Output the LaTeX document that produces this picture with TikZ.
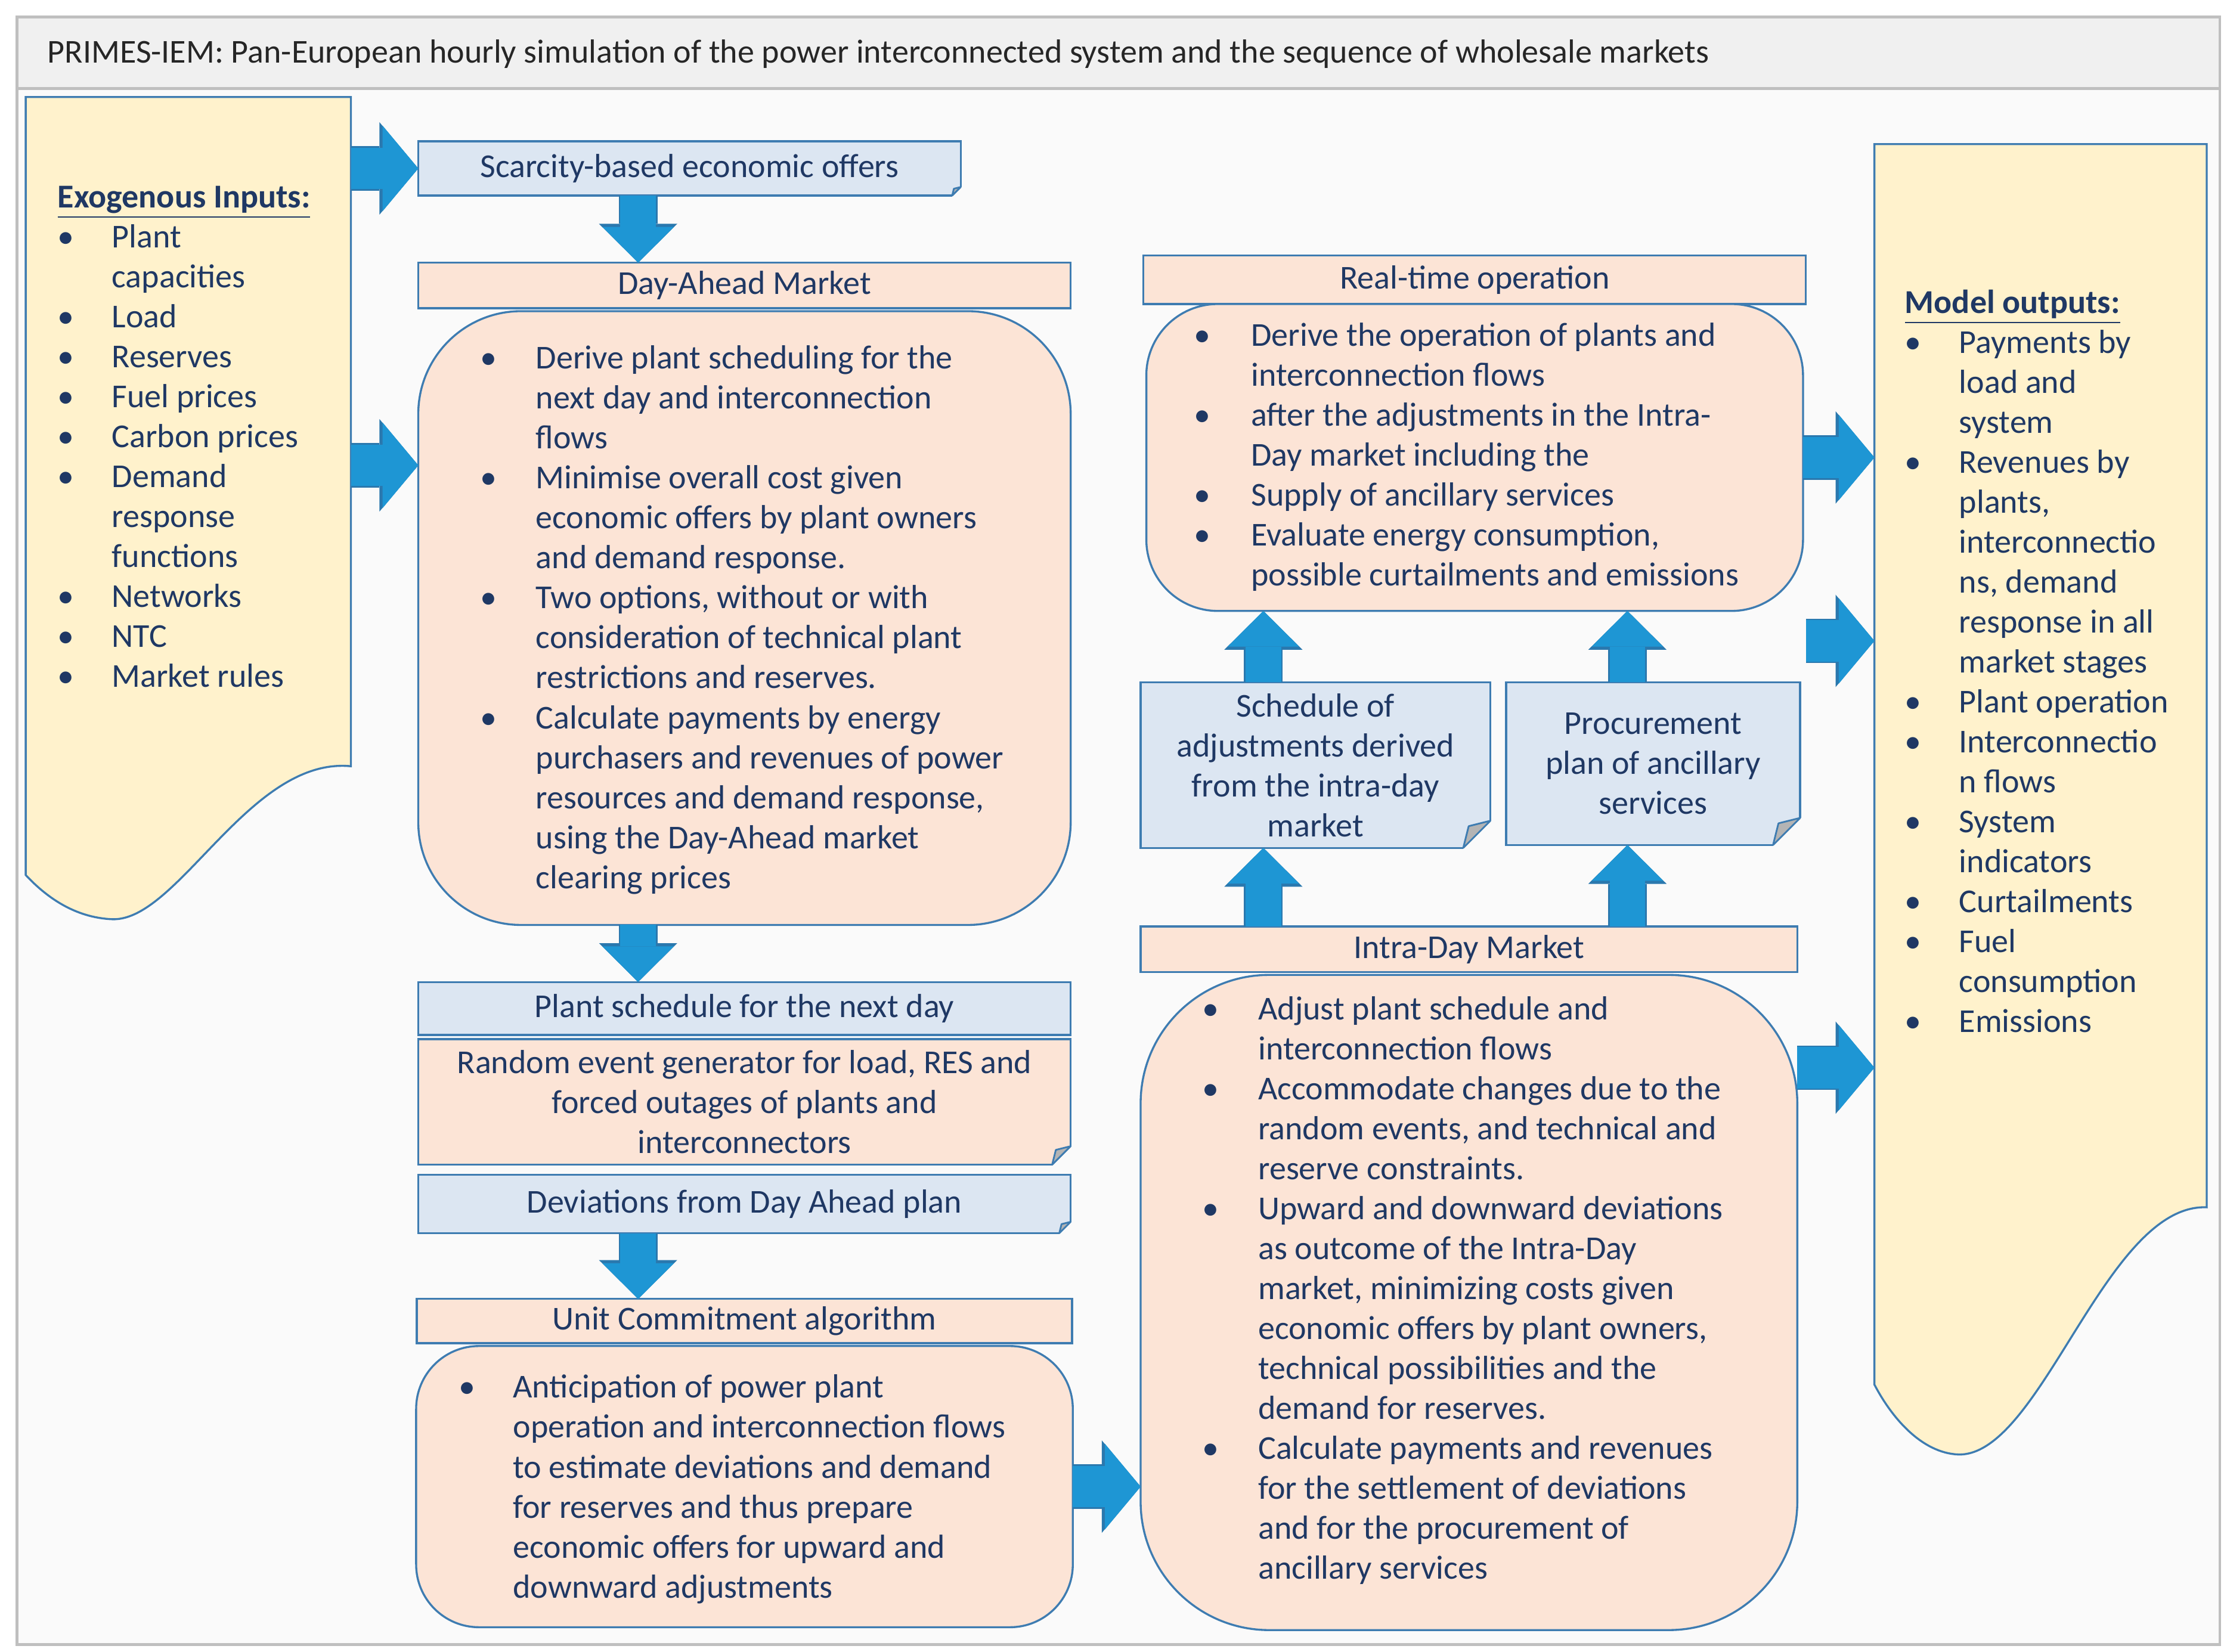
\documentclass[tikz,border=0pt]{standalone}
\usepackage{fontspec}
\setmainfont{Carlito}
\usetikzlibrary{arrows.meta,positioning,calc}

\definecolor{edge}{HTML}{3E7CB1}
\definecolor{peach}{HTML}{FCE4D6}
\definecolor{paleblue}{HTML}{DCE6F2}
\definecolor{sand}{HTML}{FFF2CC}
\definecolor{flow}{HTML}{1E96D4}
\definecolor{flowedge}{HTML}{2A78AE}
\definecolor{navy}{HTML}{1F3864}
\definecolor{framegray}{HTML}{BFBFBF}
\definecolor{bandgray}{HTML}{F0F0F0}
\definecolor{bodybg}{HTML}{FAFAFA}
\definecolor{foldgray}{HTML}{B4B4B4}

\newcommand{\boxfont}{\fontsize{11.7}{14}\selectfont}

\newcommand{\foldcorner}[2]{%
  \fill[bodybg] ([xshift=-#2,yshift=-1pt]#1.south east) -- ([xshift=1pt,yshift=-1pt]#1.south east)
    -- ([xshift=1pt,yshift=#2]#1.south east) -- ([yshift=#2]#1.south east) -- ([xshift=-#2]#1.south east) -- cycle;
  \filldraw[fill=foldgray,draw=edge,line width=0.6pt,line join=round] ([xshift=-#2]#1.south east)
    -- ([yshift=#2]#1.south east) -- ([xshift=-0.8*#2,yshift=0.8*#2]#1.south east) -- cycle;
}

\begin{document}
\begin{tikzpicture}[x=0.5pt,y=-0.5pt,
    box/.style={draw=edge,line width=0.7pt,inner sep=0pt,outer sep=0pt,text=navy,font=\boxfont,align=center},
    hdr/.style={box,fill=peach},
    memo/.style={box,fill=paleblue},
    bubble/.style={box,fill=peach},
    list/.style={inner sep=0pt,anchor=north west,text=navy,font=\boxfont},
    down/.style={draw=flow,line width=12.5pt,-{Triangle[length=12.5pt,width=25pt,line width=0pt]},
        preaction={draw=flowedge,line width=13.6pt,-{Triangle[length=13.6pt,width=27.4pt,line width=0pt]}}},
    side/.style={draw=flow,line width=14.5pt,-{Triangle[length=12.5pt,width=30pt,line width=0pt]},
        preaction={draw=flowedge,line width=15.6pt,-{Triangle[length=13.6pt,width=32.4pt,line width=0pt]}}}]

    \useasboundingbox (0,0) rectangle (1560,1157);

    \filldraw[fill=bodybg,draw=framegray,line width=1pt] (12,12) rectangle (1555,1152);
    \filldraw[fill=bandgray,draw=framegray,line width=1pt] (12,12) rectangle (1555,62);

    \node[anchor=base west,inner sep=0pt,font=\boxfont,text=black!85] (title) at (33,44)
        {PRIMES-IEM: Pan-European hourly simulation of the power interconnected system and the sequence of wholesale markets};

    \node[anchor=north west,minimum width=113.5pt,minimum height=234pt,inner sep=0pt] (exo) at (18,68) {};
    \filldraw[fill=sand,draw=edge,line width=0.7pt] (18,613) -- (exo.north west) -- (exo.north east) -- (exo.south east)
        .. controls (175,530) and (125,645) .. (79,644) .. controls (52,643) and (32,628) .. (18,613) -- cycle;

    \node[list] (exolist) at (40,125.4) {\begin{tabular}{@{}p{19pt}@{}l@{}}
        \multicolumn{2}{@{}l@{}}{\textbf{\underline{Exogenous Inputs:}}}\\
        \textbullet & Plant\\
        & capacities\\
        \textbullet & Load\\
        \textbullet & Reserves\\
        \textbullet & Fuel prices\\
        \textbullet & Carbon prices\\
        \textbullet & Demand\\
        & response\\
        & functions\\
        \textbullet & Networks\\
        \textbullet & NTC\\
        \textbullet & Market rules
    \end{tabular}};

    \node[memo,anchor=north west,minimum width=190pt,minimum height=19pt] (scar) at (293,99) {Scarcity-based economic offers};
    \foldcorner{scar}{3pt}

    \node[hdr,anchor=north west,minimum width=228.5pt,minimum height=16pt] (dahdr) at (293,184) {Day-Ahead Market};
    \node[bubble,below=1pt of dahdr,minimum width=228.5pt,minimum height=215pt,rounded corners=36pt] (dabox) {};
    \node[list] (dalist) at (336,238.4) {\begin{tabular}{@{}p{19.5pt}@{}l@{}}
        \textbullet & Derive plant scheduling for the\\
        & next day and interconnection\\
        & flows\\
        \textbullet & Minimise overall cost given\\
        & economic offers by plant owners\\
        & and demand response.\\
        \textbullet & Two options, without or with\\
        & consideration of technical plant\\
        & restrictions and reserves.\\
        \textbullet & Calculate payments by energy\\
        & purchasers and revenues of power\\
        & resources and demand response,\\
        & using the Day-Ahead market\\
        & clearing prices
    \end{tabular}};

    \node[memo,below=20pt of dabox,minimum width=228.5pt,minimum height=18.5pt] (psched) {Plant schedule for the next day};
    \node[hdr,below=1.5pt of psched,minimum width=228.5pt,minimum height=44pt] (rnd)
        {Random event generator for load, RES and\\forced outages of plants and\\interconnectors};
    \foldcorner{rnd}{6.5pt}
    \node[memo,below=3.5pt of rnd,minimum width=228.5pt,minimum height=20.5pt] (devi) {Deviations from Day Ahead plan};
    \foldcorner{devi}{4pt}

    \node[hdr,below=23pt of devi,minimum width=229.5pt,minimum height=15.5pt] (uchdr) {Unit Commitment algorithm};
    \node[bubble,below=1pt of uchdr,minimum width=230pt,minimum height=98.5pt,rounded corners=22pt] (ucbox) {};
    \node[list] (uclist) at (321,959.4) {\begin{tabular}{@{}p{19pt}@{}l@{}}
        \textbullet & Anticipation of power plant\\
        & operation and interconnection flows\\
        & to estimate deviations and demand\\
        & for reserves and thus prepare\\
        & economic offers for upward and\\
        & downward adjustments
    \end{tabular}};

    \node[hdr,anchor=north west,minimum width=232pt,minimum height=17pt] (rthdr) at (801,179) {Real-time operation};
    \node[bubble,below=0pt of rthdr,minimum width=230pt,minimum height=107.5pt,rounded corners=25pt] (rtbox) {};
    \node[list] (rtlist) at (836,222.4) {\begin{tabular}{@{}p{20pt}@{}l@{}}
        \textbullet & Derive the operation of plants and\\
        & interconnection flows\\
        \textbullet & after the adjustments in the Intra-\\
        & Day market including the\\
        \textbullet & Supply of ancillary services\\
        \textbullet & Evaluate energy consumption,\\
        & possible curtailments and emissions
    \end{tabular}};

    \node[memo,anchor=north west,minimum width=122.5pt,minimum height=58pt] (adj) at (799,478)
        {Schedule of\\adjustments derived\\from the intra-day\\market};
    \foldcorner{adj}{9.5pt}
    \node[memo,anchor=north west,minimum width=103pt,minimum height=57pt] (proc) at (1055,478)
        {Procurement\\plan of ancillary\\services};
    \foldcorner{proc}{9.5pt}

    \node[hdr,anchor=north west,minimum width=230pt,minimum height=16pt] (idhdr) at (799,649) {Intra-Day Market};
    \node[bubble,below=1pt of idhdr,minimum width=230pt,minimum height=229.5pt,rounded corners=45pt] (idbox) {};
    \node[list] (idlist) at (842,694.4) {\begin{tabular}{@{}p{19.5pt}@{}l@{}}
        \textbullet & Adjust plant schedule and\\
        & interconnection flows\\
        \textbullet & Accommodate changes due to the\\
        & random events, and technical and\\
        & reserve constraints.\\
        \textbullet & Upward and downward deviations\\
        & as outcome of the Intra-Day\\
        & market, minimizing costs given\\
        & economic offers by plant owners,\\
        & technical possibilities and the\\
        & demand for reserves.\\
        \textbullet & Calculate payments and revenues\\
        & for the settlement of deviations\\
        & and for the procurement of\\
        & ancillary services
    \end{tabular}};

    \node[anchor=north west,minimum width=116pt,minimum height=372pt,inner sep=0pt] (outp) at (1313,101) {};
    \filldraw[fill=sand,draw=edge,line width=0.7pt] (1313,970) -- (outp.north west) -- (outp.north east) -- (outp.south east)
        .. controls (1475,843) and (1430,1020) .. (1372,1019) .. controls (1346,1018) and (1325,993) .. (1313,970) -- cycle;

    \node[list] (outlist) at (1334,199.4) {\begin{tabular}{@{}p{19pt}@{}l@{}}
        \multicolumn{2}{@{}l@{}}{\textbf{\underline{Model outputs:}}}\\
        \textbullet & Payments by\\
        & load and\\
        & system\\
        \textbullet & Revenues by\\
        & plants,\\
        & interconnectio\\
        & ns, demand\\
        & response in all\\
        & market stages\\
        \textbullet & Plant operation\\
        \textbullet & Interconnectio\\
        & n flows\\
        \textbullet & System\\
        & indicators\\
        \textbullet & Curtailments\\
        \textbullet & Fuel\\
        & consumption\\
        \textbullet & Emissions
    \end{tabular}};

    \coordinate (colA) at (447,0);
    \coordinate (colB) at (885,0);
    \coordinate (colC) at (1140,0);
    \coordinate (gap) at (1265,449);
    \coordinate (daIn) at ([yshift=-54pt]dabox.north west);
    \coordinate (idOut) at ([yshift=-32.5pt]idbox.north east);

    \foreach \from/\to in {scar/dahdr, dabox/psched, devi/uchdr} {
        \draw[down] (colA |- \from.south) -- (colA |- \to.north);
    }

    \foreach \col/\from/\to in {colB/idhdr/adj, colC/idhdr/proc, colB/adj/rtbox, colC/proc/rtbox} {
        \draw[down] (\col |- \from.north) -- (\col |- \to.south);
    }

    \draw[side] (exo.east |- scar.west) -- (scar.west);
    \draw[side] (exo.east |- daIn) -- (daIn);
    \draw[side] (ucbox.east) -- (idbox.west |- ucbox.east);
    \draw[side] (rtbox.east) -- (outp.west |- rtbox.east);
    \draw[side] (gap) -- (outp.west |- gap);
    \draw[side] (idOut) -- (outp.west |- idOut);

\end{tikzpicture}
\end{document}
